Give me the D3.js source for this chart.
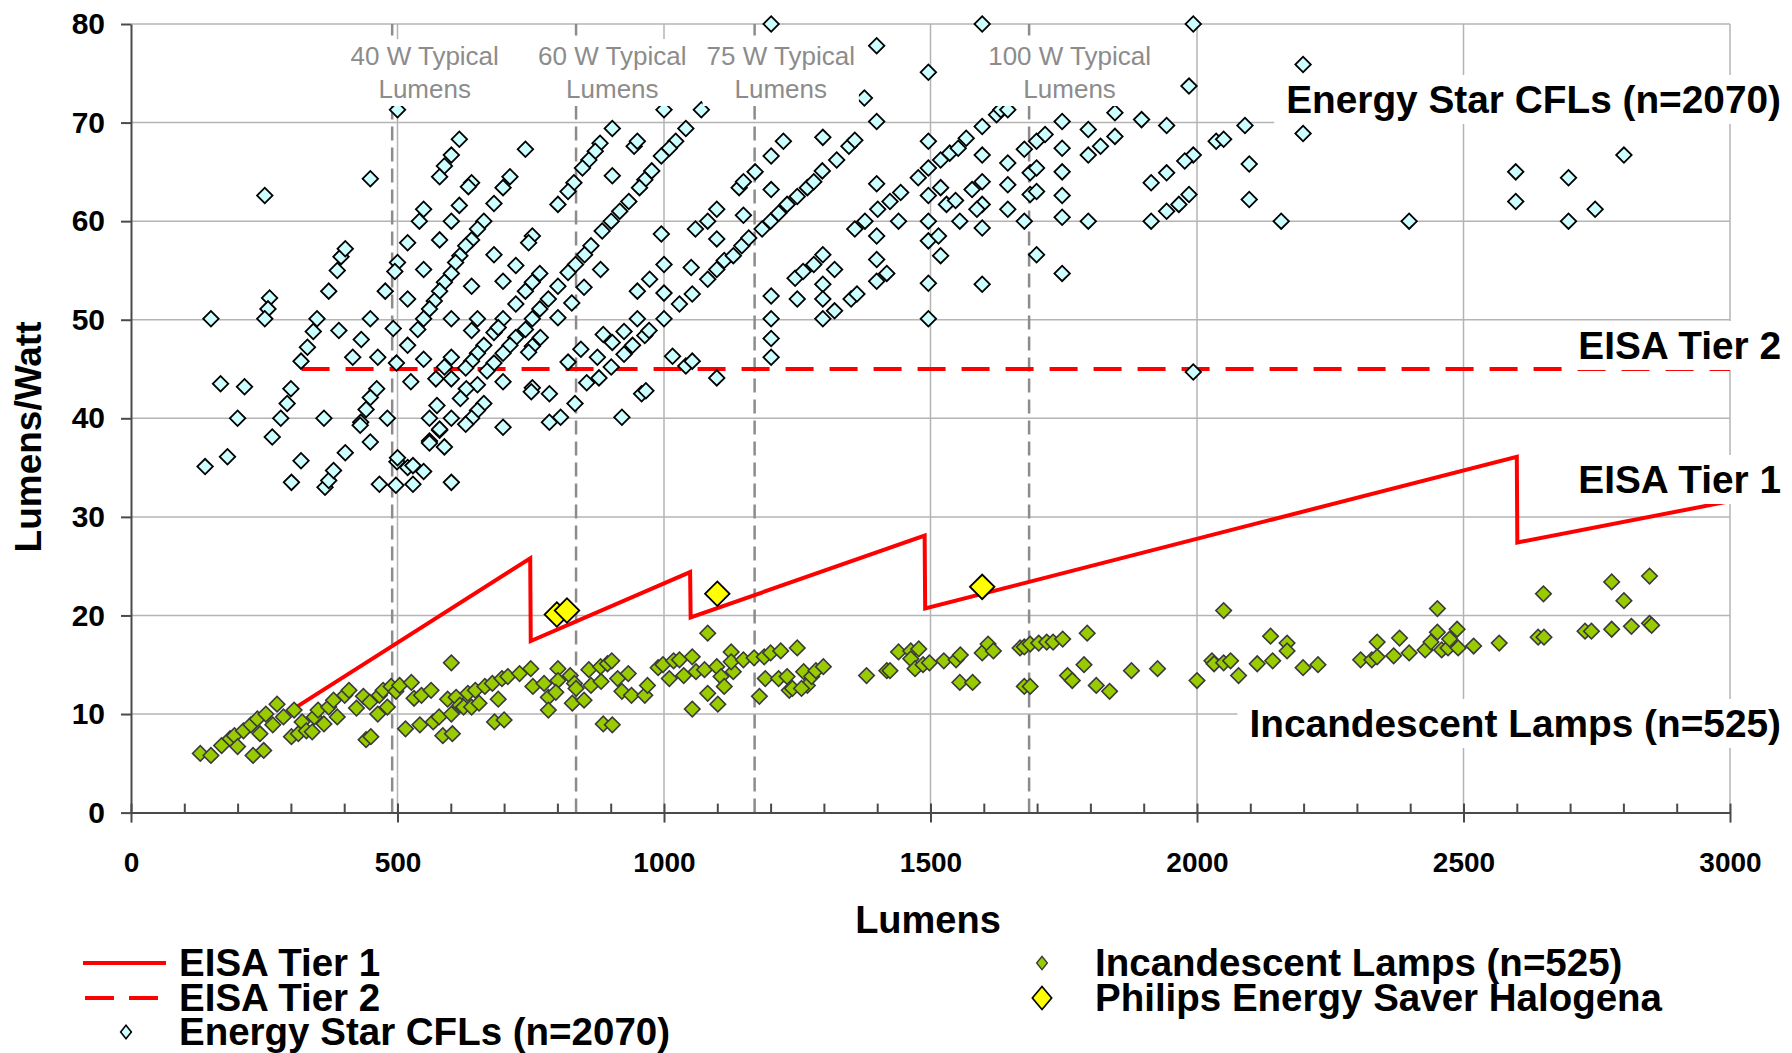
<!DOCTYPE html>
<html lang="en">
<head>
  <meta charset="utf-8">
  <title>Lumens per Watt</title>
  <script src="https://d3js.org/d3.v7.min.js"></script>
  <style>
    body { margin: 0; background: #fff; }
    text { font-family: "Liberation Sans", Arial, sans-serif; }
  </style>
</head>
<body>
<div id="chart"></div>
<script type="text/javascript">
  // ---- data: [lumens, lumens per watt] ----
  var xTicks = [0, 500, 1000, 1500, 2000, 2500, 3000];
  var yTicks = [0, 10, 20, 30, 40, 50, 60, 70, 80];
  var xMinor = [100, 200, 300, 400, 600, 700, 800, 900, 1100, 1200, 1300, 1400, 1600, 1700, 1800, 1900,
                2100, 2200, 2300, 2400, 2600, 2700, 2800, 2900];

  var typicalLumens = [490, 835, 1170, 1685];
  var typicalLabels = [
    { lm: 551, text: ["40 W Typical", "Lumens"] },
    { lm: 903, text: ["60 W Typical", "Lumens"] },
    { lm: 1219, text: ["75 W Typical", "Lumens"] },
    { lm: 1761, text: ["100 W Typical", "Lumens"] }
  ];

  var tier1Points = [[310, 10.7], [749, 25.8], [750, 17.4], [1049, 24.4], [1050, 19.8], [1489, 28.1],
                     [1490, 20.7], [2600, 36.1], [2601, 27.4], [3020, 31.8]];
  var tier2Points = [[320, 45], [3000, 45]];

  var halogenPoints = [[799, 20.1], [818, 20.5], [1100, 22.2], [1597, 22.9]];

  var cflPoints = [
    [500, 71.3], [616, 68.3], [740, 67.3], [601, 66.7], [588, 65.6], [579, 64.5], [449, 64.3], [711, 64.5],
    [698, 63.4], [639, 63.9], [633, 63.5], [681, 61.8], [616, 61.6], [251, 62.6], [549, 61.2], [541, 60],
    [601, 60], [662, 60], [650, 59.2], [639, 58.1], [628, 57.5], [617, 56.5], [609, 55.8], [579, 58.1],
    [519, 57.8], [681, 56.6], [722, 55.5], [698, 53.9], [639, 53.4], [601, 54.7], [588, 53.8], [579, 52.9],
    [569, 51.9], [560, 51.1], [549, 50.1], [538, 49], [519, 47.4], [549, 55.1], [549, 46], [500, 55.8],
    [495, 54.9], [519, 52.1], [477, 52.9], [492, 49.1], [498, 45.6], [525, 43.7], [371, 52.9], [387, 55],
    [394, 56.4], [402, 57.2], [390, 48.9], [416, 46.2], [432, 48], [449, 50.1], [463, 46.2], [461, 43],
    [449, 42.1], [441, 40.9], [431, 39.6], [481, 40], [449, 37.6], [362, 40], [349, 50.1], [342, 48.8],
    [331, 47.2], [319, 45.8], [300, 43], [293, 41.5], [281, 40], [265, 38.1], [200, 40], [168, 43.5],
    [213, 43.2], [150, 50.1], [260, 52.2], [257, 51.1], [251, 50.1], [601, 50.1], [650, 50.1], [639, 48.9],
    [662, 47.4], [650, 46.6], [639, 45.8], [628, 45.1], [601, 46.2], [588, 45.2], [572, 44], [601, 44],
    [650, 43.4], [629, 43], [618, 42], [662, 41.5], [650, 40.8], [639, 40], [628, 39.4], [601, 40],
    [574, 41.3], [560, 40], [579, 38.8], [560, 37.7], [588, 37.1], [698, 39.1], [681, 48.7], [698, 50.1],
    [689, 49.2], [722, 51.6], [740, 52.9], [753, 53.8], [767, 54.7], [753, 58.5], [746, 57.8], [740, 49],
    [722, 48.2], [711, 47.4], [698, 46.6], [681, 45.6], [668, 44.8], [698, 43.7], [753, 47.3], [746, 46.7],
    [768, 48.2], [753, 43.1], [751, 42.7], [785, 42.5], [785, 39.6], [767, 51.1], [753, 50.1], [783, 52.1],
    // below 40
    [139, 35.1], [181, 36.1], [301, 33.5], [319, 35.7], [364, 33], [371, 33.7], [380, 34.7], [402, 36.5],
    [466, 33.3], [497, 33.2], [499, 35.6], [500, 36], [519, 35], [529, 33.3], [529, 35.2], [549, 34.6],
    [560, 37.5], [579, 38.9], [601, 33.5], [430, 39.3],
    // 800 - 2000
    [1201, 80], [1597, 80], [1993, 80], [1399, 77.8], [1496, 75.1], [1985, 73.7], [1376, 72.5], [1399, 70.1],
    [1000, 71.3], [1070, 71.3], [1041, 69.4], [1022, 68.1], [1010, 67.4], [995, 66.6], [977, 65.1],
    [964, 64.2], [954, 63.4], [934, 62], [917, 61], [901, 60], [884, 59], [863, 57.5], [851, 56.6],
    [834, 55.6], [820, 54.8], [801, 53.4], [944, 67.6], [950, 68.1], [903, 69.4], [880, 67.9], [871, 67.1],
    [859, 66.2], [847, 65.4], [831, 63.9], [820, 63], [801, 61.7], [903, 64.6], [995, 58.7], [1000, 55.6],
    [1000, 52.7], [1000, 50.1], [973, 54.1], [950, 52.9], [950, 50.1], [925, 48.8], [903, 47.7], [886, 48.5],
    [875, 46.2], [901, 45.2], [878, 44.1], [855, 43.6], [833, 41.5], [806, 40.1], [921, 40.1], [958, 42.5],
    [966, 42.8], [925, 46.5], [941, 47.4], [964, 48.4], [972, 48.9], [844, 47], [820, 45.7], [1016, 46.3],
    [1041, 45.3], [1053, 45.8], [1099, 44.1], [1029, 51.6], [1053, 52.6], [1082, 54.1], [1099, 55.1],
    [1113, 56], [1130, 56.5], [1146, 57.5], [1159, 58.3], [1184, 59.2], [1200, 60], [1215, 60.8],
    [1231, 61.7], [1250, 62.5], [1269, 63.4], [1281, 64], [1297, 65.1], [1324, 66.2], [1347, 67.6],
    [1358, 68.2], [881, 55.1], [827, 51.7], [801, 50.2], [850, 53.3], [1059, 59.2], [1082, 60], [1099, 61.2],
    [1099, 58.2], [1051, 55.3], [1149, 60.6], [1141, 63.4], [1149, 64], [1171, 65], [1201, 66.6],
    [1201, 63.2], [1224, 68.1], [1298, 68.5], [1201, 52.4], [1201, 50.1], [1201, 48.1], [1201, 46.2],
    [1250, 52.1], [1246, 54.2], [1261, 54.9], [1281, 55.6], [1298, 56.6], [1298, 53.6], [1298, 52.1],
    [1298, 50.1], [1320, 50.9], [1320, 55.1], [1351, 52.1], [1362, 52.6], [1399, 63.8], [1399, 58.5],
    [1399, 56.1], [1399, 53.9], [1418, 54.7], [1358, 59.2], [1377, 60], [1401, 61.2], [1424, 62],
    [1444, 62.9], [1440, 60], [1477, 64.4], [1496, 65.4], [1519, 66.2], [1536, 66.9], [1552, 67.4],
    [1567, 68.4], [1597, 69.6], [1624, 70.8], [1496, 68.1], [1496, 62.6], [1496, 60], [1496, 58],
    [1515, 58.5], [1519, 56.5], [1496, 53.7], [1496, 50.1], [1519, 63.4], [1530, 61.7], [1547, 62.1],
    [1555, 60], [1578, 63.2], [1597, 64], [1597, 66.7], [1597, 61.7], [1587, 61.2], [1597, 59.3],
    [1597, 53.6], [1645, 65.9], [1645, 63.7], [1645, 61.2], [1676, 67.3], [1676, 60], [1687, 64.9],
    [1687, 62.7], [1699, 65.4], [1699, 63], [1699, 56.6], [1699, 68.1], [1715, 68.8], [1747, 70.1],
    [1747, 67.4], [1747, 65], [1747, 62.6], [1747, 60.4], [1747, 54.7], [1796, 69.3], [1796, 66.7],
    [1796, 60], [1819, 67.6], [1846, 68.6], [1846, 71], [1896, 70.3], [1943, 69.7], [1914, 63.9],
    [1943, 64.9], [1914, 60], [1943, 61], [1966, 61.7], [1985, 62.7], [1993, 66.7], [1977, 66.1],
    [1993, 44.7], [1632, 71.3], [1645, 71.3],
    // beyond 2000
    [2199, 75.9], [2090, 69.7], [2199, 68.9], [2036, 68.1], [2050, 68.3], [2098, 65.8], [2098, 62.2],
    [2158, 60], [2398, 60], [2598, 65], [2598, 62], [2697, 64.4], [2697, 60], [2747, 61.2], [2801, 66.7]
  ];

  var incPoints = [
    [130, 6], [150, 5.8], [170, 6.8], [186, 7.5], [194, 7.8], [200, 6.7], [211, 8.3], [225, 8.9], [229, 5.8],
    [237, 9.5], [242, 8], [249, 6.3], [253, 10], [266, 8.9], [274, 11], [286, 9.7], [301, 7.7], [306, 10.4],
    [314, 8], [321, 9.2], [329, 8.3], [340, 8.2], [344, 9.7], [351, 10.4], [362, 9], [371, 10.7], [380, 11.4],
    [387, 9.7], [401, 11.9], [409, 12.4], [423, 10.6], [436, 11.8], [441, 7.4], [450, 7.7], [448, 11.2],
    [463, 10], [466, 11.9], [481, 10.7], [473, 12.4], [488, 12.8], [497, 12.3], [504, 12.9], [515, 8.5],
    [526, 13.2], [531, 11.6], [542, 8.9], [545, 11.9], [563, 12.4], [567, 9.2], [578, 9.7], [585, 7.8],
    [601, 15.2], [594, 11.5], [603, 8], [601, 10], [610, 11.7], [617, 10.9], [624, 10.7], [632, 12.1],
    [639, 10.7], [646, 12.4], [653, 11.1], [664, 12.8], [678, 13.1], [682, 9.2], [689, 11.5], [700, 9.4],
    [696, 13.6], [707, 13.8], [729, 14.1], [750, 14.6], [754, 12.8], [775, 13.1], [783, 11.7], [783, 10.4],
    [801, 14.6], [801, 13.4], [797, 12.2], [824, 13.9], [832, 13.1], [835, 12.6], [828, 11.1], [850, 11.4],
    [859, 14.5], [863, 12.9], [881, 14.8], [882, 13.3], [894, 15.1], [902, 15.4], [886, 9], [903, 8.9],
    [913, 13.6], [921, 12.3], [933, 14.1], [939, 11.9], [964, 11.9], [969, 12.9], [989, 14.7], [998, 15],
    [1010, 13.6], [1018, 15.4], [1029, 15.5], [1037, 13.9], [1053, 15.8], [1053, 10.5], [1060, 14.3],
    [1076, 14.5], [1082, 18.2], [1082, 12.1], [1099, 14.8], [1101, 11], [1107, 13.8], [1113, 12.8],
    [1126, 16.3], [1130, 14.3], [1126, 15.3], [1149, 15.5], [1169, 15.7], [1179, 11.8], [1188, 15.8],
    [1200, 16.2], [1190, 13.6], [1219, 16.4], [1250, 16.7], [1215, 13.6], [1231, 13.8], [1235, 12.4],
    [1262, 14.3], [1269, 12.9], [1277, 13.8], [1285, 14.4], [1299, 14.8], [1241, 12.6], [1258, 12.6],
    [1380, 13.9], [1418, 14.4], [1424, 14.4], [1440, 16.3], [1463, 16.4], [1478, 16.6], [1463, 15.6],
    [1471, 14.6], [1486, 15], [1498, 15.2], [1525, 15.4], [1548, 15.5], [1556, 16], [1555, 13.2],
    [1579, 13.2], [1597, 16.2], [1608, 17.1], [1618, 16.4], [1668, 16.7], [1676, 16.8], [1687, 17.1],
    [1703, 17.2], [1718, 17.3], [1730, 17.3], [1748, 17.6], [1676, 12.8], [1687, 12.8], [1757, 13.9],
    [1766, 13.4], [1788, 15], [1794, 18.2], [1811, 12.9], [1836, 12.3], [1877, 14.4], [1926, 14.6],
    [2000, 13.4], [2028, 15.4], [2032, 15.1], [2050, 20.5], [2050, 15.2], [2063, 15.4], [2078, 13.9],
    [2113, 15.1], [2138, 17.9], [2142, 15.4], [2169, 17.2], [2169, 16.4], [2199, 14.7], [2227, 15],
    [2307, 15.5], [2328, 15.5], [2338, 17.3], [2338, 15.8], [2369, 15.9], [2380, 17.7], [2398, 16.2],
    [2428, 16.5], [2439, 17.3], [2451, 20.7], [2451, 18.3], [2459, 16.5], [2471, 16.7], [2474, 17.6],
    [2488, 18.6], [2490, 16.7], [2519, 16.9], [2567, 17.2], [2640, 17.8], [2651, 17.8], [2650, 22.2],
    [2728, 18.4], [2740, 18.4], [2778, 18.6], [2778, 23.4], [2801, 21.5], [2815, 18.9], [2849, 24],
    [2849, 19.2], [2853, 19]
  ];

  // ---- drawing ----
  var width = 1792, height = 1053;
  var x = d3.scaleLinear().domain([0, 3000]).range([131, 1730]);
  var y = d3.scaleLinear().domain([0, 80]).range([812.6, 24]);

  var svg = d3.select("#chart").append("svg")
    .attr("width", width)
    .attr("height", height);

  // gridlines
  svg.append("g").selectAll("line")
    .data(yTicks.filter(function(d) { return d > 0; }))
    .enter().append("line")
    .attr("x1", x(0)).attr("x2", x(3000))
    .attr("y1", function(d) { return y(d); }).attr("y2", function(d) { return y(d); })
    .style("stroke", "#b4b4b4").style("stroke-width", 1.5);

  svg.append("g").selectAll("line")
    .data(xTicks.filter(function(d) { return d > 0; }))
    .enter().append("line")
    .attr("x1", function(d) { return x(d); }).attr("x2", function(d) { return x(d); })
    .attr("y1", y(0)).attr("y2", y(80))
    .style("stroke", "#b4b4b4").style("stroke-width", 1.5);

  // typical lumens dashed lines
  svg.append("g").selectAll("line")
    .data(typicalLumens)
    .enter().append("line")
    .attr("x1", function(d) { return x(d); }).attr("x2", function(d) { return x(d); })
    .attr("y1", y(0)).attr("y2", y(80))
    .style("stroke", "#8c8c8c").style("stroke-width", 2.5)
    .style("stroke-dasharray", "14,7");

  // axes
  var yAxis = svg.append("g")
    .attr("transform", "translate(" + x(0) + ",0)")
    .call(d3.axisLeft(y).tickValues(yTicks).tickSize(10).tickSizeOuter(0).tickPadding(16));
  yAxis.selectAll("text").style("font-size", "30px").style("font-weight", "bold").attr("fill", "#000");

  var xMinorAxis = svg.append("g")
    .attr("transform", "translate(0," + y(0) + ")")
    .call(d3.axisBottom(x).tickValues(xMinor).tickSize(-9).tickSizeOuter(0).tickFormat(""));
  xMinorAxis.select(".domain").remove();

  var xAxis = svg.append("g")
    .attr("transform", "translate(0," + y(0) + ")")
    .call(d3.axisBottom(x).tickValues(xTicks).tickSize(10).tickSizeOuter(0).tickFormat(d3.format("d")));
  xAxis.selectAll(".tick line").attr("y1", -9);
  xAxis.selectAll("text")
    .attr("y", 59).attr("dy", 0)
    .style("font-size", "28px").style("font-weight", "bold").attr("fill", "#000");

  svg.selectAll(".domain, .tick line").style("stroke", "#4a4a4a").style("stroke-width", 2);

  svg.append("text")
    .attr("x", 928).attr("y", 933)
    .attr("text-anchor", "middle")
    .style("font-size", "38px").style("font-weight", "bold")
    .text("Lumens");

  svg.append("text")
    .attr("transform", "translate(41,437) rotate(-90)")
    .attr("text-anchor", "middle")
    .style("font-size", "37px").style("font-weight", "bold")
    .text("Lumens/Watt");

  // EISA lines
  var line = d3.line()
    .x(function(d) { return x(d[0]); })
    .y(function(d) { return y(d[1]); });

  svg.append("path").datum(tier2Points)
    .attr("d", line)
    .style("fill", "none").style("stroke", "#ff0000").style("stroke-width", 4)
    .style("stroke-dasharray", "28,16");

  svg.append("path").datum(tier1Points)
    .attr("d", line)
    .style("fill", "none").style("stroke", "#ff0000").style("stroke-width", 4)
    .style("stroke-linejoin", "miter");

  // markers
  var diamond = d3.symbol().type(d3.symbolSquare);

  svg.append("g").selectAll("path")
    .data(cflPoints)
    .enter().append("path")
    .attr("d", diamond.size(120)())
    .attr("transform", function(d) { return "translate(" + x(d[0]) + "," + y(d[1]) + ") rotate(45)"; })
    .style("fill", "#ccffff").style("stroke", "#000").style("stroke-width", 1.8);

  svg.append("g").selectAll("path")
    .data(incPoints)
    .enter().append("path")
    .attr("d", diamond.size(120)())
    .attr("transform", function(d) { return "translate(" + x(d[0]) + "," + y(d[1]) + ") rotate(45)"; })
    .style("fill", "#99cc00").style("stroke", "#3a3a3a").style("stroke-width", 1.6);

  svg.append("g").selectAll("path")
    .data(halogenPoints)
    .enter().append("path")
    .attr("d", diamond.size(300)())
    .attr("transform", function(d) { return "translate(" + x(d[0]) + "," + y(d[1]) + ") rotate(45)"; })
    .style("fill", "#ffff00").style("stroke", "#000").style("stroke-width", 1.8);

  // labels with white boxes on top
  function boxed(g, pad) {
    var b = g.node().getBBox();
    g.insert("rect", ":first-child")
      .attr("x", b.x - pad[0]).attr("y", b.y - pad[1])
      .attr("width", b.width + pad[0] * 2).attr("height", b.height + pad[1] * 2)
      .style("fill", "#fff");
  }

  typicalLabels.forEach(function(t) {
    var g = svg.append("g");
    g.selectAll("text")
      .data(t.text)
      .enter().append("text")
      .attr("x", x(t.lm))
      .attr("y", function(d, i) { return 65 + i * 33; })
      .attr("text-anchor", "middle")
      .style("font-size", "26px").style("fill", "#8c8c8c")
      .text(function(d) { return d; });
    boxed(g, [4, 2]);
  });

  var seriesLabels = [
    { text: "Energy Star CFLs (n=2070)", y: 113 },
    { text: "EISA Tier 2", y: 359 },
    { text: "EISA Tier 1", y: 493 },
    { text: "Incandescent Lamps (n=525)", y: 737 }
  ];
  seriesLabels.forEach(function(s) {
    var g = svg.append("g");
    g.append("text")
      .attr("x", 1781).attr("y", s.y)
      .attr("text-anchor", "end")
      .style("font-size", "38.8px").style("font-weight", "bold")
      .text(s.text);
    boxed(g, [12, 3]);
  });

  // legend
  var legend = svg.append("g");
  legend.append("line").attr("x1", 83).attr("x2", 166).attr("y1", 963).attr("y2", 963)
    .style("stroke", "#ff0000").style("stroke-width", 4);
  legend.append("line").attr("x1", 85).attr("x2", 166).attr("y1", 998).attr("y2", 998)
    .style("stroke", "#ff0000").style("stroke-width", 4).style("stroke-dasharray", "29,15");
  legend.append("path").attr("d", diamond.size(90)())
    .attr("transform", "translate(126,1032) scale(0.8,1) rotate(45)")
    .style("fill", "#ccffff").style("stroke", "#000").style("stroke-width", 1.8);
  legend.append("path").attr("d", diamond.size(90)())
    .attr("transform", "translate(1042,963) scale(0.8,1) rotate(45)")
    .style("fill", "#99cc00").style("stroke", "#3a3a3a").style("stroke-width", 1.6);
  legend.append("path").attr("d", diamond.size(260)())
    .attr("transform", "translate(1042,998) scale(0.85,1) rotate(45)")
    .style("fill", "#ffff00").style("stroke", "#000").style("stroke-width", 1.8);

  var legendText = [
    { x: 179, y: 976, text: "EISA Tier 1" },
    { x: 179, y: 1011, text: "EISA Tier 2" },
    { x: 179, y: 1045, text: "Energy Star CFLs (n=2070)" },
    { x: 1095, y: 976, text: "Incandescent Lamps (n=525)" },
    { x: 1095, y: 1011, text: "Philips Energy Saver Halogena" }
  ];
  legend.selectAll("text.leg")
    .data(legendText)
    .enter().append("text")
    .attr("class", "leg")
    .attr("x", function(d) { return d.x; })
    .attr("y", function(d) { return d.y; })
    .style("font-size", "38.5px").style("font-weight", "bold")
    .text(function(d) { return d.text; });
</script>
</body>
</html>
